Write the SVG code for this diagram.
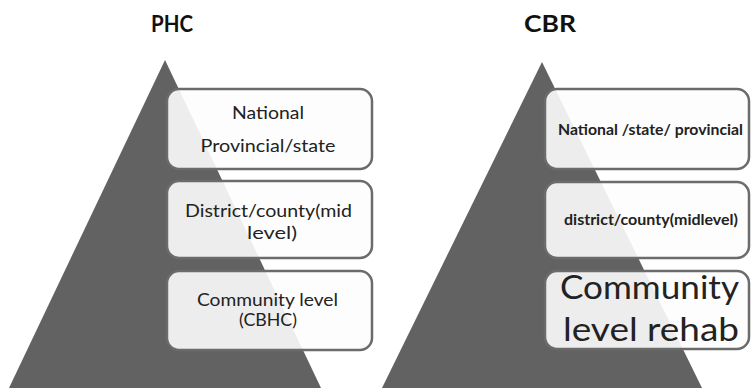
<svg xmlns="http://www.w3.org/2000/svg" width="752" height="388" viewBox="0 0 752 388">
<style>
.pyr{fill:#626262}
.box{fill:#fdfdfd;fill-opacity:0.9;stroke:#6b6b6b;stroke-width:2.5}
.t{font-family:Lato,"Open Sans","Liberation Sans",sans-serif;fill:#222;text-anchor:middle}
.title{font-weight:bold;font-size:22px;fill:#111}
.m{font-size:18px}
.sb{font-size:15px;font-weight:bold}
.big{font-size:32px}
</style>
<rect width="752" height="388" fill="#ffffff"/>
<g id="phc">
  <text class="t title" x="172" y="32" textLength="42" lengthAdjust="spacingAndGlyphs">PHC</text>
  <polygon class="pyr" points="165,60 9,388 321,388"/>
  <g id="phc-national">
    <rect class="box" x="167" y="89" width="205" height="80" rx="12"/>
    <text class="t m" x="268" y="119" textLength="72" lengthAdjust="spacingAndGlyphs">National</text>
    <text class="t m" x="268" y="152" textLength="135" lengthAdjust="spacingAndGlyphs">Provincial/state</text>
  </g>
  <g id="phc-district">
    <rect class="box" x="167" y="181" width="205" height="77" rx="12"/>
    <text class="t m" x="268.5" y="217" textLength="167" lengthAdjust="spacingAndGlyphs">District/county(mid</text>
    <text class="t m" x="272" y="239" textLength="50" lengthAdjust="spacingAndGlyphs">level)</text>
  </g>
  <g id="phc-community">
    <rect class="box" x="167" y="271" width="205" height="79" rx="12"/>
    <text class="t m" x="267.5" y="306" textLength="141" lengthAdjust="spacingAndGlyphs">Community level</text>
    <text class="t m" x="268" y="326" textLength="58" lengthAdjust="spacingAndGlyphs">(CBHC)</text>
  </g>
</g>
<g id="cbr">
  <text class="t title" x="550" y="32" textLength="52" lengthAdjust="spacingAndGlyphs">CBR</text>
  <polygon class="pyr" points="542,62 382,388 702,388"/>
  <g id="cbr-national">
    <rect class="box" x="545" y="89" width="204" height="80" rx="12"/>
    <text class="t sb" x="650.5" y="135" textLength="185" lengthAdjust="spacingAndGlyphs">National /state/ provincial</text>
  </g>
  <g id="cbr-district">
    <rect class="box" x="545" y="182" width="204" height="76" rx="12"/>
    <text class="t sb" x="651" y="225" textLength="174" lengthAdjust="spacingAndGlyphs">district/county(midlevel)</text>
  </g>
  <g id="cbr-community">
    <rect class="box" x="545" y="271" width="204" height="78" rx="12"/>
    <text class="t big" x="649.5" y="299" textLength="179" lengthAdjust="spacingAndGlyphs">Community</text>
    <text class="t big" x="651" y="341" textLength="176" lengthAdjust="spacingAndGlyphs">level rehab</text>
  </g>
</g>
</svg>
